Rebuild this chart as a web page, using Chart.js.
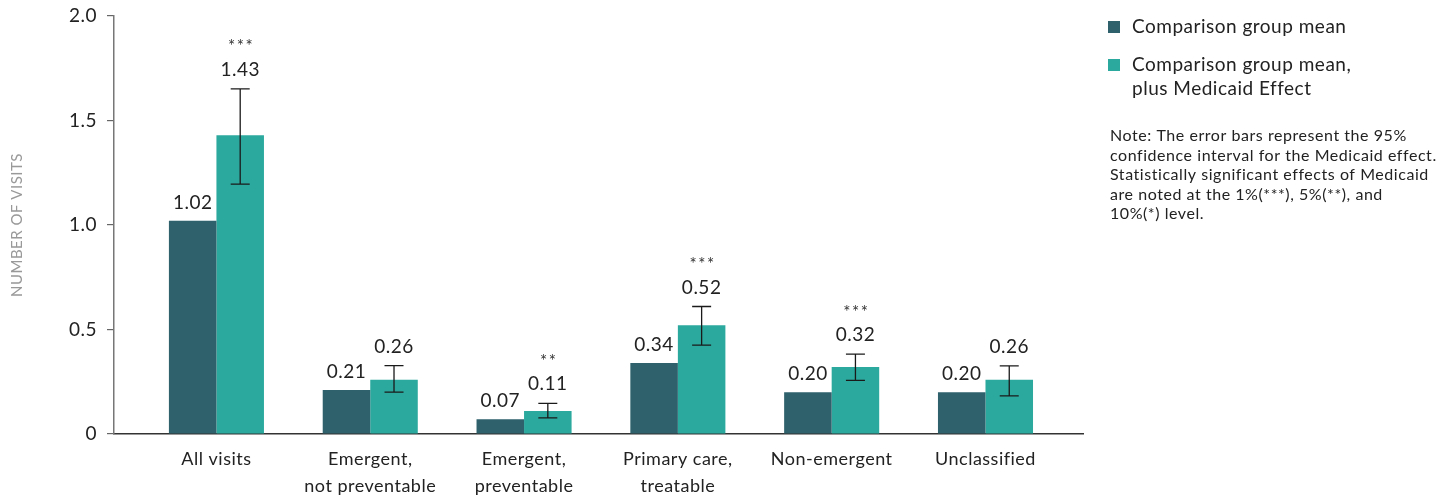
<!DOCTYPE html>
<html>
<head>
<meta charset="utf-8">
<script src="https://cdn.jsdelivr.net/npm/chart.js@4"></script>
<style>
  html, body { margin: 0; padding: 0; background: #fff; }
  #wrap { width: 1443px; height: 499px; position: relative; }
</style>
</head>
<body>
<div id="wrap"><canvas id="c"></canvas></div>
<script>
// Visit categories (multi-line axis labels)
const categories = [
  ['All visits'],
  ['Emergent,', 'not preventable'],
  ['Emergent,', 'preventable'],
  ['Primary care,', 'treatable'],
  ['Non-emergent'],
  ['Unclassified']
];
// Mean number of visits
const comparisonMean = [1.02, 0.21, 0.07, 0.34, 0.20, 0.20];
const withMedicaid   = [1.43, 0.26, 0.11, 0.52, 0.32, 0.26];
// 95% confidence interval of the Medicaid effect
const ciLow  = [1.196, 0.200, 0.077, 0.425, 0.257, 0.182];
const ciHigh = [1.651, 0.327, 0.147, 0.610, 0.382, 0.326];
const significance = ['***', '', '**', '***', '***', ''];
// Value axis ticks
const yTicks = [0, 0.5, 1.0, 1.5, 2.0];
const yTickLabels = ['0', '0.5', '1.0', '1.5', '2.0'];
const seriesNames = [
  ['Comparison group mean'],
  ['Comparison group mean,', 'plus Medicaid Effect']
];
const noteLines = [
  'Note: The error bars represent the 95%',
  'confidence interval for the Medicaid effect.',
  'Statistically significant effects of Medicaid',
  'are noted at the 1%(***), 5%(**), and',
  '10%(*) level.'
];

const FONT = 'Lato, "Noto Sans", sans-serif';
const DARK = '#2e616c';
const TEAL = '#2ba99e';

// Slightly open tracking for all text the chart draws
const tracking = {
  id: 'tracking',
  beforeDraw(chart) { chart.ctx.letterSpacing = '0.5px'; }
};

// Error bars, value labels and significance stars
const annotations = {
  id: 'annotations',
  afterDatasetsDraw(chart) {
    const ctx = chart.ctx;
    const y = chart.scales.y;
    const darkBars = chart.getDatasetMeta(0).data;
    const tealBars = chart.getDatasetMeta(1).data;
    ctx.save();
    ctx.strokeStyle = '#1a1a1a';
    ctx.lineWidth = 1.3;
    tealBars.forEach((bar, i) => {
      const x = bar.x;
      const top = y.getPixelForValue(ciHigh[i]);
      const bot = y.getPixelForValue(ciLow[i]);
      ctx.beginPath();
      ctx.moveTo(x, top); ctx.lineTo(x, bot);
      ctx.moveTo(x - 9.5, top); ctx.lineTo(x + 9.5, top);
      ctx.moveTo(x - 9.5, bot); ctx.lineTo(x + 9.5, bot);
      ctx.stroke();
    });
    ctx.textAlign = 'center';
    ctx.textBaseline = 'middle';
    ctx.letterSpacing = '0.5px';
    ctx.fillStyle = '#222';
    ctx.font = '19px ' + FONT;
    darkBars.forEach((bar, i) => {
      ctx.fillText(comparisonMean[i].toFixed(2), bar.x, bar.y - 18);
    });
    tealBars.forEach((bar, i) => {
      const top = Math.min(bar.y, y.getPixelForValue(ciHigh[i]));
      const ly = top - 19;
      ctx.fillStyle = '#222';
      ctx.font = '19px ' + FONT;
      ctx.letterSpacing = '0.5px';
      ctx.fillText(withMedicaid[i].toFixed(2), bar.x, ly);
      if (significance[i]) {
        ctx.fillStyle = '#333';
        ctx.font = '17px ' + FONT;
        ctx.letterSpacing = '1.5px';
        ctx.fillText(significance[i], bar.x + 1, ly - 23);
      }
    });
    ctx.restore();
  }
};

// Legend and footnote panel on the right
const sidePanel = {
  id: 'sidePanel',
  afterDraw(chart) {
    const ctx = chart.ctx;
    ctx.save();
    const rows = [27, 65];
    chart.data.datasets.forEach((ds, i) => {
      ctx.fillStyle = ds.backgroundColor;
      ctx.fillRect(1108, rows[i] - 6, 12, 12);
      ctx.fillStyle = '#222';
      ctx.font = '19px ' + FONT;
      ctx.letterSpacing = '0.5px';
      ctx.textAlign = 'left';
      ctx.textBaseline = 'middle';
      seriesNames[i].forEach((line, k) => ctx.fillText(line, 1132, rows[i] + k * 24));
    });
    ctx.font = '16px ' + FONT;
    ctx.letterSpacing = '0.55px';
    ctx.textBaseline = 'alphabetic';
    ctx.fillStyle = '#222';
    noteLines.forEach((line, k) => ctx.fillText(line, 1110, 141 + k * 19.6));
    ctx.restore();
  }
};

new Chart(document.getElementById('c'), {
  type: 'bar',
  data: {
    datasets: [
      {
        label: seriesNames[0].join(' '),
        data: comparisonMean.map((v, i) => ({ x: i, y: v })),
        backgroundColor: DARK
      },
      {
        label: seriesNames[1].join(' '),
        data: withMedicaid.map((v, i) => ({ x: i, y: v })),
        backgroundColor: TEAL
      }
    ]
  },
  options: {
    responsive: true,
    maintainAspectRatio: false,
    animation: false,
    categoryPercentage: 0.618,
    barPercentage: 1,
    layout: { padding: { top: 16, right: 360, left: 0, bottom: 0 } },
    plugins: { legend: { display: false }, tooltip: { enabled: false } },
    scales: {
      x: {
        type: 'linear',
        offset: false,
        min: -0.666,
        max: 5.634,
        afterBuildTicks(scale) {
          scale.ticks = categories.map((_, i) => ({ value: i }));
        },
        afterFit(scale) {
          scale.height = 65;
          scale.paddingLeft = 0;
          scale.paddingRight = 0;
        },
        ticks: {
          autoSkip: false,
          maxRotation: 0,
          padding: 12,
          color: '#222',
          font: { family: FONT, size: 18, lineHeight: 1.5 },
          callback: (v) => categories[Math.round(v)]
        },
        grid: { display: false, drawTicks: false },
        border: { display: true, color: '#333', width: 1.5 }
      },
      y: {
        min: 0,
        max: 2,
        afterBuildTicks(scale) {
          scale.ticks = yTicks.map(v => ({ value: v }));
        },
        afterFit(scale) {
          scale.width = 114;
          scale.paddingTop = 0;
          scale.paddingBottom = 0;
        },
        ticks: {
          padding: 10,
          color: '#222',
          font: { family: FONT, size: 19 },
          callback: (v) => yTickLabels[yTicks.indexOf(v)]
        },
        grid: { display: true, drawOnChartArea: false, drawTicks: true, tickLength: 7, color: '#666', lineWidth: 1.2 },
        border: { display: true, color: '#777', width: 1.5 },
        title: {
          display: true,
          text: 'NUMBER OF VISITS',
          color: '#999',
          font: { family: FONT, size: 15 },
          padding: { top: 8, bottom: 0 }
        }
      }
    }
  },
  plugins: [tracking, annotations, sidePanel]
});
</script>
</body>
</html>
